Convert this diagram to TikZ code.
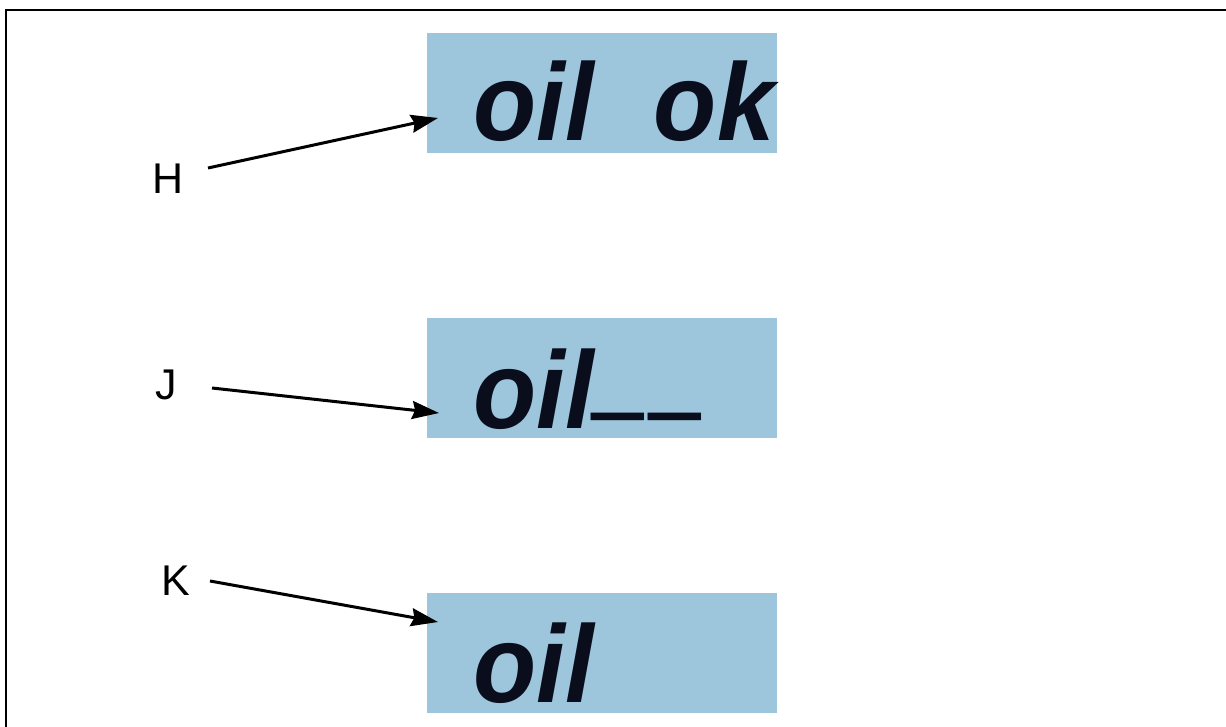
\documentclass[tikz,border=0pt]{standalone}
\usepackage{fontspec}
\setmainfont{Liberation Sans}
\usetikzlibrary{arrows.meta}
\definecolor{panelblue}{RGB}{157,198,221}
\definecolor{inkdark}{RGB}{10,14,28}
\tikzset{
  panel/.style={fill=panelblue, draw=none, rectangle, inner sep=0pt,
                minimum width=350pt, minimum height=120pt, anchor=north west},
  readout/.style={inner sep=0pt, anchor=base west, text=inkdark, xscale=0.94,
                  font=\fontsize{110pt}{110pt}\selectfont\bfseries\itshape},
  tag/.style={inner sep=0pt, font=\fontsize{43pt}{43pt}\selectfont},
  pointer/.style={line width=3pt, -{Stealth[length=27pt,width=18pt,inset=3pt]}},
  frameline/.style={line width=2.5pt}
}
% a raised, thickened underscore used as a blank digit segment
\newcommand{\segbar}{\raisebox{32pt}{\scalebox{0.9}[1.8]{\_}}}
\begin{document}
\begin{tikzpicture}[x=1pt, y=-1pt]
  \useasboundingbox (0,0) rectangle (1226,726);
  % frame
  \draw[frameline] (6,727) -- (6,10) -- (1227,10);

  % display panels
  \node[panel] (boxH) at (427,33) {};
  \node[panel] (boxJ) at (427,318) {};
  \node[panel] (boxK) at (427,593) {};

  % panel readouts
  \node[readout] (txtH) at (473,140) {oil\hspace{64pt}ok};
  \node[readout] (txtJ) at (473,428) {oil\kern3pt\segbar\kern5pt\segbar};
  \node[readout] (txtK) at (473,702) {oil};

  % callout letters
  \node[tag] (labH) at (168,179) {H};
  \node[tag] (labJ) at (166,385) {J};
  \node[tag] (labK) at (176,581) {K};

  % arrow ends
  \coordinate (hs) at (208,168);
  \coordinate (ht) at (438,118);
  \coordinate (js) at (212,388);
  \coordinate (jt) at (439,413);
  \coordinate (ks) at (210,581);
  \coordinate (kt) at (438,622);

  \draw[pointer] (hs) -- (ht);
  \draw[pointer] (js) -- (jt);
  \draw[pointer] (ks) -- (kt);
\end{tikzpicture}
\end{document}
